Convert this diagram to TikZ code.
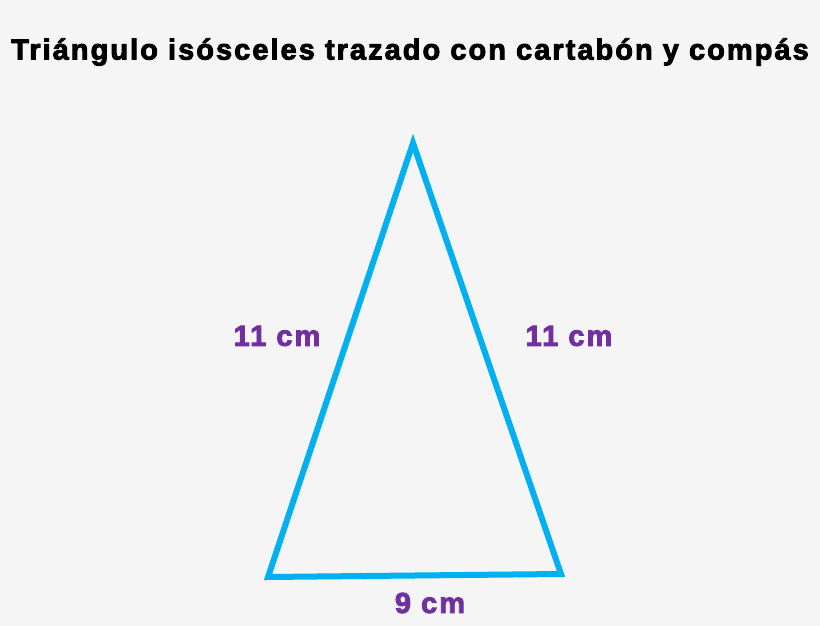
\documentclass[tikz,border=0pt]{standalone}
\usepackage{fontspec}
\setmainfont{Liberation Sans}[LetterSpace=7,FakeBold=3]
\usepackage{tikz}
\definecolor{fondo}{HTML}{F5F5F5}
\definecolor{celeste}{HTML}{00B0F0}
\definecolor{morado}{HTML}{7030A0}
\tikzset{lado/.style={
    draw=celeste, line width=6pt, line join=miter
  },
  medida/.style={
    text=morado, font=\fontsize{29}{34}\selectfont\bfseries, inner sep=0pt
  },
  titulo/.style={
    font=\fontsize{29}{34}\selectfont\bfseries, inner sep=0pt
  }
}

\begin{document}
\begin{tikzpicture}[x=1pt,y=-1pt]
      \fill[fondo] (0,0) rectangle (820,626);
      \useasboundingbox (0,0) rectangle (820,626);
      \node[titulo] (tit) at (410,52) {Triángulo isósceles trazado con cartabón y compás};
      \coordinate (C) at (413,143);
      \coordinate (A) at (268,577);
      \coordinate (B) at (561,574);
      \draw[lado] (A) -- (B) -- (C) -- cycle;
      \node[medida] (ac) at (277,336) {11 cm};
      \node[medida] (bc) at (569,336) {11 cm};
      \node[medida] (ab) at (430,603) {9 cm};
    \end{tikzpicture}
\end{document}
